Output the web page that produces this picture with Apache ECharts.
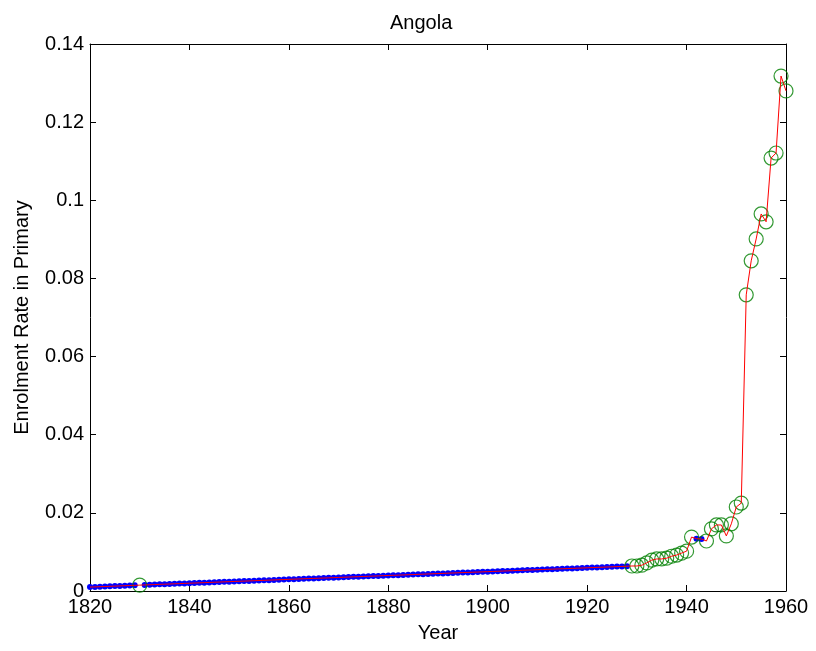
<!DOCTYPE html>
<html>
<head>
<meta charset="utf-8">
<script src="https://cdn.jsdelivr.net/npm/echarts@6/dist/echarts.min.js"></script>
<style>html,body{margin:0;padding:0;background:#fff}#c{width:816px;height:651px}</style>
</head>
<body>
<div id="c"></div>
<script>
const startYear = 1820;
const enrolment = [
  0.00100, 0.00105, 0.00110, 0.00115, 0.00120, 0.00125, 0.00130, 0.00135, 0.00140, 0.00145,
  0.00150, 0.00155, 0.00160, 0.00165, 0.00170, 0.00174, 0.00179, 0.00184, 0.00189, 0.00194,
  0.00199, 0.00204, 0.00209, 0.00214, 0.00219, 0.00224, 0.00229, 0.00234, 0.00239, 0.00244,
  0.00249, 0.00253, 0.00258, 0.00263, 0.00268, 0.00273, 0.00278, 0.00283, 0.00288, 0.00293,
  0.00298, 0.00303, 0.00308, 0.00313, 0.00318, 0.00323, 0.00327, 0.00332, 0.00337, 0.00342,
  0.00347, 0.00352, 0.00357, 0.00362, 0.00367, 0.00372, 0.00377, 0.00382, 0.00387, 0.00392,
  0.00397, 0.00402, 0.00406, 0.00411, 0.00416, 0.00421, 0.00426, 0.00431, 0.00436, 0.00441,
  0.00446, 0.00451, 0.00456, 0.00461, 0.00466, 0.00471, 0.00476, 0.00480, 0.00485, 0.00490,
  0.00495, 0.00500, 0.00505, 0.00510, 0.00515, 0.00520, 0.00525, 0.00530, 0.00535, 0.00540,
  0.00545, 0.00550, 0.00554, 0.00559, 0.00564, 0.00569, 0.00574, 0.00579, 0.00584, 0.00589,
  0.00594, 0.00599, 0.00604, 0.00609, 0.00614, 0.00619, 0.00624, 0.00629, 0.00634, 0.00640,
  0.00640, 0.00660, 0.00720, 0.00790, 0.00820, 0.00820, 0.00840, 0.00890, 0.00920, 0.00970,
  0.01020, 0.01380, 0.01340, 0.01330, 0.01280, 0.01590, 0.01690, 0.01690, 0.01410, 0.01720,
  0.02150, 0.02250, 0.07580, 0.08450, 0.09010, 0.09650, 0.09450, 0.11080, 0.11210, 0.13180,
  0.12800
];
const observedYears = [1830,
  1929, 1930, 1931, 1932, 1933, 1934, 1935, 1936, 1937, 1938, 1939, 1940, 1941,
  1944, 1945, 1946, 1947, 1948, 1949, 1950, 1951, 1952, 1953, 1954, 1955, 1956,
  1957, 1958, 1959, 1960];
const xTicks = [1820, 1840, 1860, 1880, 1900, 1920, 1940, 1960];
const yTicks = [0, 0.02, 0.04, 0.06, 0.08, 0.1, 0.12, 0.14];

const years = enrolment.map((_, i) => startYear + i);
const allPts = years.map((y, i) => [y, enrolment[i]]);
const obsPts = allPts.filter(p => observedYears.includes(p[0]));
const interpPts = allPts.filter(p => !observedYears.includes(p[0]));

const FONT = 'Liberation Sans, Arial, Helvetica, sans-serif';
const axisCommon = {
  axisLine: {show: true, onZero: false, lineStyle: {color: '#000', width: 1}},
  axisTick: {show: true, inside: true, length: 6, lineStyle: {color: '#000'}},
  splitLine: {show: false}
};
const chart = echarts.init(document.getElementById('c'), null, {renderer: 'canvas'});
chart.setOption({
  animation: false,
  backgroundColor: '#fff',
  title: {
    text: 'Angola', left: 385, top: 8,
    textStyle: {fontFamily: FONT, fontSize: 20, fontWeight: 'normal', color: '#000'}
  },
  grid: {left: 90, right: 30, top: 44, bottom: 60, containLabel: false},
  xAxis: [
    Object.assign({}, axisCommon, {
      type: 'value', min: xTicks[0], max: xTicks[xTicks.length - 1], interval: 20, position: 'bottom',
      name: 'Year', nameLocation: 'middle', nameGap: 32,
      nameTextStyle: {fontFamily: FONT, fontSize: 20, color: '#000'},
      axisLabel: {fontFamily: FONT, fontSize: 20, color: '#000', margin: 6,
        formatter: v => String(v)}
    }),
    Object.assign({}, axisCommon, {
      type: 'value', min: xTicks[0], max: xTicks[xTicks.length - 1], interval: 20, position: 'top',
      axisLabel: {show: false}
    })
  ],
  yAxis: [
    Object.assign({}, axisCommon, {
      type: 'value', min: yTicks[0], max: yTicks[yTicks.length - 1], interval: 0.02, position: 'left',
      name: 'Enrolment Rate in Primary', nameLocation: 'middle', nameGap: 58, nameRotate: 90,
      nameTextStyle: {fontFamily: FONT, fontSize: 20, color: '#000'},
      axisLabel: {fontFamily: FONT, fontSize: 20, color: '#000', margin: 6,
        formatter: v => v === 0 ? '0' : String(+v.toFixed(2))}
    }),
    Object.assign({}, axisCommon, {
      type: 'value', min: yTicks[0], max: yTicks[yTicks.length - 1], interval: 0.02, position: 'right',
      axisLabel: {show: false}
    })
  ],
  series: [
    {
      type: 'scatter', data: interpPts, symbol: 'circle', symbolSize: 6,
      itemStyle: {color: '#0000ff', opacity: 1}, z: 2, silent: true
    },
    {
      type: 'scatter', data: obsPts, symbol: 'circle', symbolSize: 14,
      itemStyle: {color: 'rgba(0,0,0,0)', borderColor: '#008000', borderWidth: 1.2}, z: 3, silent: true
    },
    {
      type: 'line', data: allPts, showSymbol: false, symbol: 'none',
      lineStyle: {color: '#ff0000', width: 1}, z: 4, silent: true
    }
  ]
});
</script>
</body>
</html>
